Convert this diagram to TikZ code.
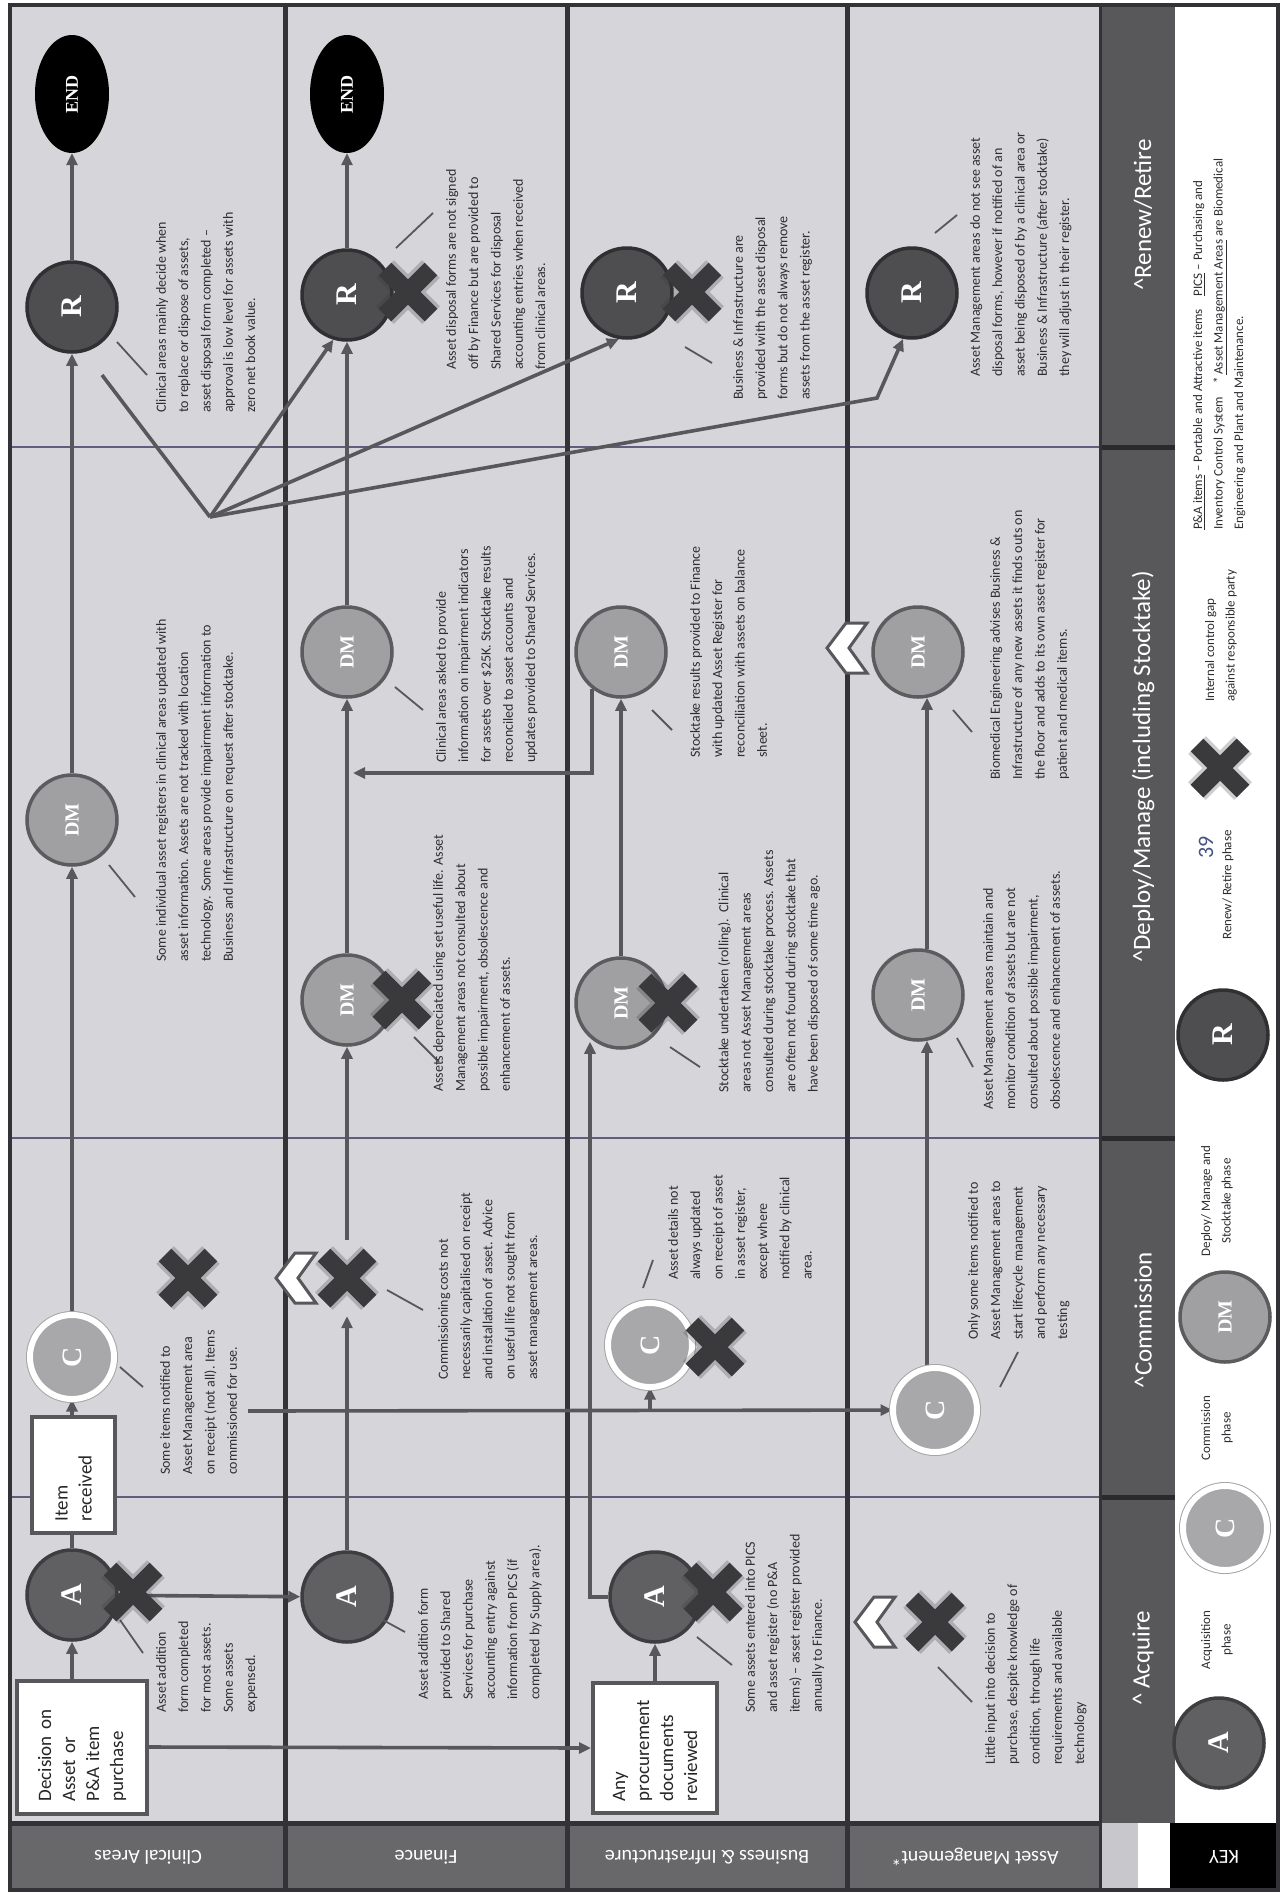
\documentclass[tikz,border=0pt]{standalone}
\usepackage{fontspec}
\usepackage{graphicx}
\setmainfont{Carlito}
\newfontfamily\letterfont{Liberation Serif}
\usetikzlibrary{arrows.meta,shapes.geometric,calc}
\pgfdeclarelayer{back}
\pgfdeclarelayer{mid}
\pgfsetlayers{back,mid,main}

\definecolor{lanebg}{RGB}{214,214,218}
\definecolor{gridc}{RGB}{50,50,55}
\definecolor{labelbar}{RGB}{104,104,106}
\definecolor{phasebar}{RGB}{88,88,90}
\definecolor{phasesep}{RGB}{42,42,45}
\definecolor{thinline}{RGB}{95,95,125}
\definecolor{arrcol}{RGB}{88,88,92}
\definecolor{txt}{RGB}{45,45,50}
\definecolor{acol}{RGB}{96,96,98}
\definecolor{aedge}{RGB}{62,62,64}
\definecolor{rcol}{RGB}{78,78,80}
\definecolor{redge}{RGB}{48,48,50}
\definecolor{dmcol}{RGB}{160,160,162}
\definecolor{dmedge}{RGB}{92,92,94}
\definecolor{ccol}{RGB}{168,168,170}
\definecolor{xcol}{RGB}{58,58,60}
\definecolor{pagenum}{RGB}{70,82,130}
\definecolor{keygray}{RGB}{200,200,204}

\newcommand\myNoteFont{\fontsize{14}{22.3}\selectfont}
\newcommand\myKeyFont{\fontsize{13}{20.5}\selectfont}
\newcommand\myBoxFont{\fontsize{19}{24}\selectfont}

\tikzset{
 arr/.style={draw=arrcol, line width=3.6pt, -{Triangle[length=12pt,width=11pt]}},
 flow/.style={draw=arrcol, line width=3.6pt},
 tick/.style={draw=arrcol, line width=1.8pt},
 note/.style={rotate=90, anchor=north west, align=left, inner sep=0pt, font=\myNoteFont, text=txt},
 keytext/.style={rotate=90, align=center, inner sep=0pt, font=\myKeyFont, text=txt},
 keyleft/.style={rotate=90, anchor=north west, align=left, inner sep=0pt, font=\myKeyFont, text=txt},
 decbox/.style={rotate=90, draw=arrcol, line width=4pt, fill=white, align=left, font=\myBoxFont, text=black!85, inner xsep=12pt, inner ysep=4pt},
 phA/.style={circle, fill=acol, draw=aedge, line width=3.5pt, minimum size=90pt, inner sep=0pt, text=white, font=\letterfont\bfseries\fontsize{30}{30}\selectfont},
 phR/.style={phA, fill=rcol, draw=redge},
 phDM/.style={circle, fill=dmcol, draw=dmedge, line width=3.5pt, minimum size=90pt, inner sep=0pt, text=white, font=\letterfont\bfseries\fontsize{20}{20}\selectfont},
 phC/.style={circle, fill=ccol, draw=gray!70, double=white, double distance=6pt, line width=1pt, minimum size=84pt, inner sep=0pt, text=white, font=\letterfont\bfseries\fontsize{28}{28}\selectfont},
 endnode/.style={ellipse, fill=black, minimum width=74pt, minimum height=118pt, inner sep=0pt, text=white, font=\letterfont\bfseries\fontsize{18}{18}\selectfont},
 lanelabel/.style={rotate=180, text=white, font=\fontsize{20}{20}\selectfont},
 phaselabel/.style={rotate=90, text=white, font=\fontsize{25}{25}\selectfont},
 xhold/.style={minimum size=76pt, inner sep=0pt},
 xmark/.pic={
   \draw[line width=25pt, xcol, opacity=0.25] (-23,-23) -- (23,23) (-23,23) -- (23,-23);
   \draw[line width=18pt, xcol] (-23,-23) -- (23,23) (-23,23) -- (23,-23);},
 chevmark/.pic={\draw[fill=white, draw=arrcol, line width=3pt, line join=miter] (-21,0) -- (-2,25) -- (19,25) -- (1,0) -- (19,-25) -- (-2,-25) -- cycle;},
}

\begin{document}
\begin{tikzpicture}[x=1pt,y=1pt]
\useasboundingbox (0,0) rectangle (1284,-1899);

% ---------------- backgrounds ----------------
\begin{pgfonlayer}{back}
\fill[white] (0,0) rectangle (1284,-1899);
\fill[lanebg] (10,-5) rectangle (1100,-1823);
\fill[phasebar] (1100,-5) rectangle (1175,-1823);
\fill[labelbar] (10,-1823) rectangle (1100,-1890);
\fill[keygray] (1100,-1823) rectangle (1138,-1890);
\fill[black] (1170,-1823) rectangle (1278,-1890);
\foreach \py in {447,1138,1497}{
  \draw[phasesep, line width=5pt] (1100,-\py) -- (1175,-\py);
  \draw[thinline, line width=1.3pt] (10,-\py) -- (1100,-\py);
}
\foreach \px in {285,567,847}{
  \draw[gridc, line width=5pt] (\px,-5) -- (\px,-1890);
}
\draw[gridc, line width=3pt] (1100,-5) -- (1100,-1890);
\draw[gridc, line width=5pt] (10,-1823) -- (1100,-1823);
\draw[gridc, line width=4pt] (10,-5) rectangle (1278,-1890);
\end{pgfonlayer}

% ---------------- lane and phase labels ----------------
\node[lanelabel] (lc) at (148,-1857) {Clinical Areas};
\node[lanelabel] (lf) at (426,-1857) {Finance};
\node[lanelabel] (lb) at (707,-1857) {Business \& Infrastructure};
\node[lanelabel] (lam) at (975,-1857) {Asset Management*};
\node[lanelabel] (lkey) at (1224,-1857) {KEY};

\node[phaselabel] (p1) at (1143,-1658) {\textasciicircum\,Acquire};
\node[phaselabel] (p2) at (1143,-1320) {\textasciicircum Commission};
\node[phaselabel] (p3) at (1143,-767) {\textasciicircum Deploy/Manage (including Stocktake)};
\node[phaselabel] (p4) at (1143,-215) {\textasciicircum Renew/Retire};

% ---------------- nodes: Clinical Areas ----------------
\node[endnode] (endc) at (72,-94) {\rotatebox{90}{END}};
\node[phR] (rc) at (72,-307) {\rotatebox{90}{R}};
\node[phDM] (dmc) at (72,-820) {\rotatebox{90}{DM}};
\node[phC] (cc) at (72,-1357) {\rotatebox{90}{C}};
\node[phA] (ac) at (72,-1595) {\rotatebox{90}{A}};
\node[decbox, text width=109pt, minimum height=130pt] (dec) at (82,-1747) {Decision on\\Asset or\\P\&A item\\purchase};
\node[decbox, text width=92pt, minimum height=83pt] (recv) at (73.5,-1475) {Item\\received};

% ---------------- nodes: Finance ----------------
\node[endnode] (endf) at (347,-94) {\rotatebox{90}{END}};
\node[phR] (rf) at (347,-295) {\rotatebox{90}{R}};
\node[phDM] (dmf2) at (347,-652) {\rotatebox{90}{DM}};
\node[phDM] (dmf) at (347,-1000) {\rotatebox{90}{DM}};
\node[phA] (af) at (347,-1597) {\rotatebox{90}{A}};
\node[xhold] (xf) at (347,-1278) {};

% ---------------- nodes: Business & Infrastructure ----------------
\node[phR] (rb) at (627,-293) {\rotatebox{90}{R}};
\node[phDM] (dmb2) at (621,-652) {\rotatebox{90}{DM}};
\node[phDM] (dmb) at (621,-1003) {\rotatebox{90}{DM}};
\node[phC] (cb) at (650,-1345) {\rotatebox{90}{C}};
\node[phA] (ab) at (655,-1597) {\rotatebox{90}{A}};
\node[decbox, text width=106pt, minimum height=124pt] (proc) at (655,-1748) {Any\\procurement\\documents\\reviewed};

% ---------------- nodes: Asset Management ----------------
\node[phR] (ram) at (912,-293) {\rotatebox{90}{R}};
\node[phDM] (dmam2) at (918,-652) {\rotatebox{90}{DM}};
\node[phDM] (dmam) at (918,-995) {\rotatebox{90}{DM}};
\node[phC] (cam) at (935,-1410) {\rotatebox{90}{C}};

% ---------------- X holders ----------------
\node[xhold] (xc1) at (133,-1592) {};
\node[xhold] (xc2) at (188,-1278) {};
\node[xhold] (xf2) at (402,-1000) {};
\node[xhold] (xf3) at (408,-292) {};
\node[xhold] (xb1) at (713,-1592) {};
\node[xhold] (xb2) at (715,-1347) {};
\node[xhold] (xb3) at (668,-1003) {};
\node[xhold] (xb4) at (692,-292) {};
\node[xhold] (xam) at (935,-1622) {};

% ---------------- connectors ----------------
\coordinate (cstart) at (248,-1411);
\coordinate (finj) at (353,-773);
\coordinate (fan) at (210,-517);
\coordinate (fanbend) at (877,-398);
\begin{pgfonlayer}{mid}
\draw[arr] (ac |- dec.east) -- (ac.south);
\draw[flow] (ac.north) -- (ac.north |- recv.west);
\draw[arr] (cc |- recv.east) -- (cc.south);
\draw[arr] (cc) -- (dmc);
\draw[arr] (dmc) -- (rc);
\draw[arr] (rc) -- (endc);
\draw[arr] (ac) -- (af);
\draw[arr] (dec.south) -- (proc.north);
\draw[arr] (cstart) -- (cam);
\draw[arr] (cb |- cstart) -- (cb.south);
\draw[arr] (af) -- (xf);
\draw[arr] (xf) -- (dmf);
\draw[arr] (dmf) -- (dmf2);
\draw[arr] (dmf2) -- (rf);
\draw[arr] (rf) -- (endf);
\draw[arr] (proc.east) -- (ab);
\draw[arr] (ab.west) -| ([xshift=-31pt,yshift=8pt]dmb.south);
\draw[arr] (dmb) -- (dmb2);
\draw[arr] (dmb2.-128) |- (finj);
\draw[arr] ([xshift=-8pt]cam.north) -- ([xshift=9pt,yshift=1pt]dmam.south);
\draw[arr] ([xshift=9pt,yshift=-1pt]dmam.north) -- ([xshift=9pt,yshift=1pt]dmam2.south);
\draw[flow] (fan) -- ($(rc)+(30,-68)$);
\draw[arr] (fan) -- (rf.-107);
\draw[arr] (fan) -- (rb.-100);
\draw[arr] (fan) -- (fanbend) -- (ram.-101);
\end{pgfonlayer}

% ---------------- ticks ----------------
\draw[tick] ($(rc)+(45,-35)$) -- ($(rc)+(75,-68)$);
\draw[tick] ($(dmc)+(37,-45)$) -- ($(dmc)+(63,-77)$);
\draw[tick] ($(cc)+(48,-10)$) -- ($(cc)+(71,-30)$);
\draw[tick] ($(ac)+(48,-25)$) -- ($(ac)+(71,-58)$);
\draw[tick] ($(xf)+(40,-12)$) -- ($(xf)+(76,-32)$);
\draw[tick] ($(af)+(36,-23)$) -- ($(af)+(58,-35)$);
\draw[tick] ($(dmf)+(67,-37)$) -- ($(dmf)+(92,-62)$);
\draw[tick] ($(dmf2)+(48,-35)$) -- ($(dmf2)+(76,-58)$);
\draw[tick] ($(rf)+(49,47)$) -- ($(rf)+(86,82)$);
\draw[tick] ($(ab)+(42,-40)$) -- ($(ab)+(77,-68)$);
\draw[tick] ($(cb)+(-7,57)$) -- ($(cb)+(3,85)$);
\draw[tick] ($(dmb)+(49,-44)$) -- ($(dmb)+(79,-64)$);
\draw[tick] ($(dmb2)+(31,-58)$) -- ($(dmb2)+(51,-78)$);
\draw[tick] ($(rb)+(58,-54)$) -- ($(rb)+(85,-70)$);
\draw[tick] ($(xam)+(3,-45)$) -- ($(xam)+(37,-80)$);
\draw[tick] ($(cam)+(65,23)$) -- ($(cam)+(83,58)$);
\draw[tick] ($(dmam)+(39,-43)$) -- ($(dmam)+(55,-72)$);
\draw[tick] ($(dmam2)+(35,-58)$) -- ($(dmam2)+(54,-80)$);
\draw[tick] ($(ram)+(23,60)$) -- ($(ram)+(45,78)$);

% ---------------- notes ----------------
\node[note] (n1) at (156,-1713) {Asset addition\\form completed\\for most assets.\\Some assets\\expensed.};
\node[note] (n2) at (160,-1475) {Some items notified to\\Asset Management area\\on receipt (not all). Items\\commissioned for use.};
\node[note] (n3) at (156,-962) {Some individual asset registers in clinical areas updated with\\asset information. Assets are not tracked with location\\technology. Some areas provide impairment information to\\Business and Infrastructure on request after stocktake.};
\node[note] (n4) at (156,-413) {Clinical areas mainly decide when\\to replace or dispose of assets,\\asset disposal form completed --\\approval is low level for assets with\\zero net book value.};
\node[note] (n5) at (418,-1700) {Asset addition form\\provided to Shared\\Services for purchase\\accounting entry against\\information from PICS (if\\completed by Supply area).};
\node[note] (n6) at (438,-1380) {Commissioning costs not\\necessarily capitalised on receipt\\and installation of asset. Advice\\on useful life not sought from\\asset management areas.};
\node[note] (n7) at (433,-1092) {Assets depreciated using set useful life. Asset\\Management areas not consulted about\\possible impairment, obsolescence and\\enhancement of assets.};
\node[note] (n8) at (436,-763) {Clinical areas asked to provide\\information on impairment indicators\\for assets over \$25K. Stocktake results\\reconciled to asset accounts and\\updates provided to Shared Services.};
\node[note] (n9) at (446,-370) {Asset disposal forms are not signed\\off by Finance but are provided to\\Shared Services for disposal\\accounting entries when received\\from clinical areas.};
\node[note] (n10) at (745,-1713) {Some assets entered into PICS\\and asset register (no P\&A\\items) -- asset register provided\\annually to Finance.};
\node[note] (n11) at (668,-1280) {Asset details not\\always updated\\on receipt of asset\\in asset register,\\except where\\notified by clinical\\area.};
\node[note] (n12) at (718,-1093) {Stocktake undertaken (rolling).\ \ Clinical\\areas not Asset Management areas\\consulted during stocktake process. Assets\\are often not found during stocktake that\\have been disposed of some time ago.};
\node[note] (n13) at (690,-758) {Stocktake results provided to Finance\\with updated Asset Register for\\reconciliation with assets on balance\\sheet.};
\node[note] (n14) at (733,-400) {Business \& Infrastructure are\\provided with the asset disposal\\forms but do not always remove\\assets from the asset register.};
\node[note] (n15) at (985,-1765) {Little input into decision to\\purchase, despite knowledge of\\condition, through life\\requirements and available\\technology};
\node[note] (n16) at (968,-1340) {Only some items notified to\\Asset Management areas to\\start lifecycle management\\and perform any necessary\\testing};
\node[note] (n17) at (983,-1110) {Asset Management areas maintain and\\monitor condition of assets but are not\\consulted about possible impairment,\\obsolescence and enhancement of assets.};
\node[note] (n18) at (990,-780) {Biomedical Engineering advises Business \&\\Infrastructure of any new assets it finds outs on\\the floor and adds to its own asset register for\\patient and medical items.};
\node[note] (n19) at (970,-377) {Asset Management areas do not see asset\\disposal forms, however if notified of an\\asset being disposed of by a clinical area or\\Business \& Infrastructure (after stocktake)\\they will adjust in their register.};

% ---------------- X marks and chevrons ----------------
\foreach \nm in {xc1,xc2,xf,xf2,xf3,xb1,xb2,xb3,xb4,xam}{ \pic at (\nm) {xmark}; }
\pic at (297,-1278) {chevmark};
\pic at (876,-1622) {chevmark};
\pic at (848,-648) {chevmark};

% ---------------- key ----------------
\node[phA] (ka) at (1219,-1743) {\rotatebox{90}{A}};
\node[phC] (kc) at (1225,-1528) {\rotatebox{90}{C}};
\node[phDM] (kdm) at (1225,-1317) {\rotatebox{90}{DM}};
\node[phR] (kr) at (1223,-1035) {\rotatebox{90}{R}};
\node[xhold] (kx) at (1220,-768) {};
\pic at (kx) {xmark};
\node[keytext] (kta) at (1217,-1640) {Acquisition\\phase};
\node[keytext] (ktc) at (1217,-1428) {Commission\\phase};
\node[keytext] (ktd) at (1217,-1201) {Deploy/ Manage and\\Stocktake phase};
\node[keytext] (ktr) at (1228,-885) {Renew/ Retire phase};
\node[rotate=90, text=pagenum, font=\fontsize{22}{22}\selectfont, inner sep=0pt] (pnum) at (1206,-847) {39};
\node[keyleft] (ktx) at (1205,-702) {Internal control gap\\against responsible party};
\node[keyleft] (ktg) at (1193,-530) {\underline{P\&A items} -- Portable and Attractive items\quad \underline{PICS} -- Purchasing and\\Inventory Control System\quad * \underline{Asset Management Areas} are Biomedical\\Engineering and Plant and Maintenance.};
\end{tikzpicture}
\end{document}
